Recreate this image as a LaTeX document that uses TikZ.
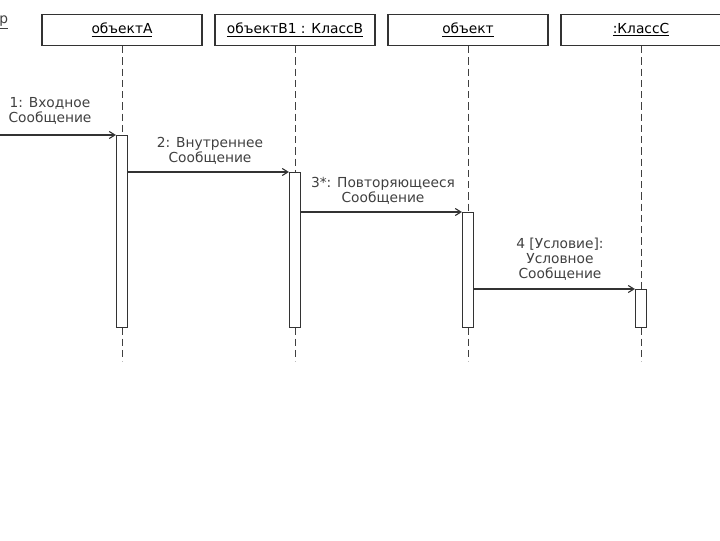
\documentclass[tikz,border=0pt]{standalone}
\usepackage{fontspec}
\setmainfont{DejaVu Sans}
\usetikzlibrary{arrows.meta,positioning}
\newcommand{\diafont}{\fontsize{9.8}{10.8}\selectfont}
\newcommand{\objname}[1]{{\diafont\underline{#1}}}

\begin{document}
\begin{tikzpicture}[
    x=0.025cm, y=-0.025cm,
    objbox/.style={rectangle, draw=black!80, line width=0.9pt, minimum width=4cm, minimum height=0.78cm, inner sep=0pt},
    lifeline/.style={draw=black!75, line width=0.7pt, dash pattern=on 5pt off 3pt},
    actbar/.style={rectangle, draw=black!80, fill=white, line width=0.7pt, minimum width=0.28cm, inner sep=0pt, anchor=north},
    msg/.style={draw=black!80, line width=0.8pt, -{Straight Barb[length=4pt,width=5pt]}},
    msglabel/.style={align=center, font=\diafont, text=black!75, inner sep=0pt}
]
\useasboundingbox (0,0) rectangle (720,540);

% Objekte
\node[objbox] (objA) at (122,30) {\objname{объектA}};
\node[objbox] (objB) at (295,30) {\objname{объектB1 : КлассB}};
\node[objbox] (obj) at (468,30) {\objname{объект}};
\node[objbox] (objC) at (641,30) {\objname{:КлассC}};
\node[anchor=west, inner sep=0pt, font=\diafont, text=black!75] (cut) at (-1,22) {\underline{р}};

% Linee di vita
\foreach \o in {objA,objB,obj,objC}
    \draw[lifeline] (\o.south) -- ++(0,315);

% Barre di attivazione
\node[actbar, minimum height=4.8cm] (barA) at (122,135) {};
\node[actbar, minimum height=3.875cm] (barB) at (295,172) {};
\node[actbar, minimum height=2.875cm] (barO) at (468,212) {};
\node[actbar, minimum height=0.95cm] (barC) at (641,289) {};

% Messaggi
\coordinate (start) at (0,135);
\draw[msg] (start) -- (barA.north west);
\draw[msg] (barA.east |- barB.north) -- (barB.north west);
\draw[msg] (barB.east |- barO.north) -- (barO.north west);
\draw[msg] (barO.east |- barC.north) -- (barC.north west);

% Etichette
\node[msglabel] (l1) at (50,111) {1: Входное\\Сообщение};
\node[msglabel] (l2) at (210,151) {2: Внутреннее\\Сообщение};
\node[msglabel] (l3) at (383,191) {3*: Повторяющееся\\Сообщение};
\node[msglabel] (l4) at (560,259) {4 [Условие]:\\Условное\\Сообщение};

\end{tikzpicture}
\end{document}
